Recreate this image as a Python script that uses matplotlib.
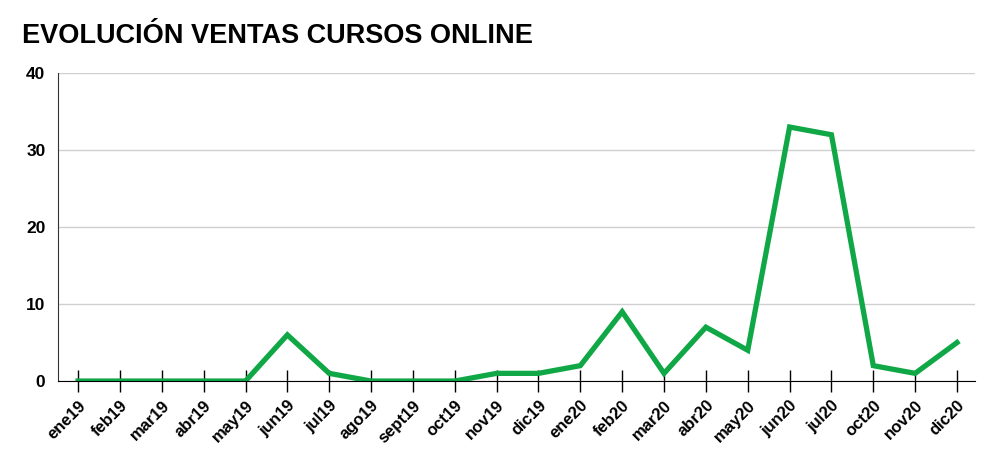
import matplotlib.pyplot as plt

meses = ['ene19', 'feb19', 'mar19', 'abr19', 'may19', 'jun19', 'jul19', 'ago19',
         'sept19', 'oct19', 'nov19', 'dic19', 'ene20', 'feb20', 'mar20', 'abr20',
         'may20', 'jun20', 'jul20', 'oct20', 'nov20', 'dic20']
ventas = [0, 0, 0, 0, 0, 6, 1, 0, 0, 0, 1, 1, 2, 9, 1, 7, 4, 33, 32, 2, 1, 5]

plt.rcParams['font.family'] = ['Liberation Sans', 'DejaVu Sans']

fig = plt.figure(figsize=(10, 4.63), dpi=100)
ax = fig.add_axes([0.058, 0.177, 0.917, 0.665])

x = range(len(meses))
ax.plot(x, ventas, color='#10a846', linewidth=3.8, solid_joinstyle='miter', zorder=3)

ax.set_xlim(-0.48, len(meses) - 1 + 0.43)
ax.set_ylim(0, 40)
ax.set_yticks([0, 10, 20, 30, 40])
ax.set_xticks(list(x))
ax.set_xticklabels(meses, rotation=45, ha='right', rotation_mode='anchor',
                   fontsize=12, fontweight='bold')
for lbl in ax.get_yticklabels():
    lbl.set_fontsize(12.5)
    lbl.set_fontweight('bold')

ax.grid(axis='y', color='#d0d0d0', linewidth=1)
ax.set_axisbelow(True)
for s in ['top', 'right']:
    ax.spines[s].set_visible(False)
ax.spines['left'].set_color('#333333')
ax.spines['bottom'].set_color('black')
ax.spines['bottom'].set_zorder(4)
ax.tick_params(axis='y', length=0, pad=9)
ax.tick_params(axis='x', direction='inout', length=16, width=1, color='black', pad=4)

fig.text(0.022, 0.922, 'EVOLUCIÓN VENTAS CURSOS ONLINE', fontsize=19.5,
         fontweight='bold', va='center')

fig.savefig('out.png', dpi=100)
